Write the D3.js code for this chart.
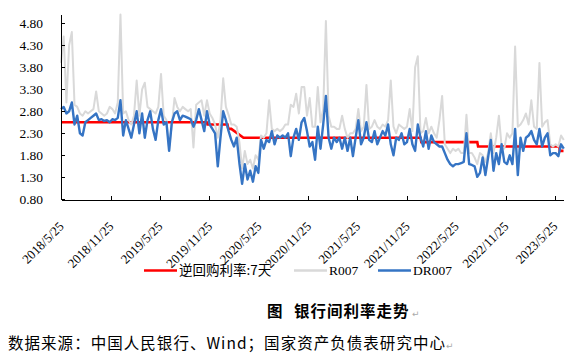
<!DOCTYPE html>
<html>
<head>
<meta charset="utf-8">
<script src="https://cdn.jsdelivr.net/npm/d3@7"></script>
<style>
  body { margin: 0; background: #fff; }
  .axis path, .axis line { stroke: #000; shape-rendering: crispEdges; }
</style>
</head>
<body>
<svg id="chart" width="582" height="364"></svg>
<script>
// 数据：每10天取一个点，从2018/5/25起
var startDate = "2018-05-25";
var stepDays = 10;

var r007 = [3.9, 4.5, 3.0, 4.3, 4.6, 2.95, 2.9, 2.75, 2.7, 2.8,
    2.75, 2.8, 2.85, 3.25, 2.8, 2.75, 2.7, 2.75, 2.9, 2.85,
    2.75, 3.0, 5.0, 2.75, 2.8, 2.6, 2.5, 2.7, 3.5, 2.7,
    3.3, 3.45, 2.9, 2.85, 2.8, 2.75, 2.9, 3.65, 2.7, 2.6,
    1.95, 2.5, 3.1, 2.9, 2.8, 2.9, 2.85, 2.8, 2.85, 1.98,
    2.95, 3.0, 3.05, 2.7, 3.05, 2.75, 2.65, 2.5, 2.2, 2.6,
    3.55, 2.9, 2.72, 2.5, 2.5, 2.45, 2.1, 1.5, 1.9, 1.6,
    1.7, 1.5, 1.8, 1.7, 2.25, 2.2, 2.3, 3.05, 2.4, 2.35,
    2.4, 2.35, 2.4, 2.5, 2.5, 2.95, 2.9, 3.2, 2.75, 3.35,
    3.35, 2.7, 3.1, 2.45, 2.45, 3.35, 2.55, 2.85, 4.85, 2.7,
    2.45, 2.45, 2.4, 2.4, 2.7, 2.4, 2.2, 2.3, 2.3, 2.4,
    2.85, 2.35, 2.45, 3.4, 2.4, 2.45, 2.6, 2.45, 2.4, 2.5,
    2.45, 2.6, 3.5, 2.45, 2.3, 2.5, 2.45, 2.4, 2.45, 2.85,
    2.35, 3.8, 4.05, 2.3, 2.35, 2.65, 2.3, 2.45, 2.3, 2.2,
    2.6, 3.15, 2.05, 1.95, 1.85, 1.95, 1.9, 1.95, 1.85, 1.85,
    2.72, 1.85, 1.85, 1.75, 1.6, 1.85, 1.8, 1.65, 1.85, 2.3,
    1.85, 2.2, 2.7, 2.0, 1.95, 2.3, 2.2, 2.3, 4.27, 2.45,
    2.5, 2.6, 2.75, 2.5, 3.05, 2.45, 2.4, 3.9, 2.45, 2.55,
    2.6, 2.05, 2.0, 2.05, 2.0, 2.25, 2.15];

var dr007 = [2.85, 2.9, 2.75, 2.8, 3.0, 2.5, 2.7, 2.3, 2.25, 2.55,
    2.6, 2.65, 2.7, 2.75, 2.6, 2.62, 2.58, 2.6, 2.55, 2.62,
    2.6, 2.65, 3.05, 2.25, 2.6, 2.4, 2.2, 2.5, 2.8, 2.3,
    2.75, 2.2, 2.6, 2.8, 2.4, 2.15, 2.6, 2.85, 2.5, 2.55,
    1.9, 2.55, 2.75, 2.8, 2.6, 2.7, 2.68, 2.65, 2.62, 2.45,
    2.6, 2.85, 2.6, 2.35, 2.8, 2.5, 2.4, 2.3, 1.55, 2.2,
    2.8, 2.6, 2.35, 2.15, 2.0, 2.2, 1.62, 1.15, 1.6, 1.25,
    1.45, 1.2, 1.55, 1.4, 2.15, 1.95, 2.15, 2.1, 2.35, 2.05,
    2.25, 2.2, 2.25, 2.2, 2.3, 1.78, 2.2, 2.4, 2.15, 2.55,
    2.65, 2.35, 2.0, 2.1, 1.7, 2.45, 1.95, 2.5, 3.15, 2.2,
    1.95, 2.2, 2.1, 2.2, 1.95, 2.2, 1.9, 2.2, 1.78, 2.2,
    2.6, 2.05, 2.2, 2.55, 2.15, 2.1, 2.35, 2.05, 2.2, 2.35,
    2.25, 2.5, 2.05, 1.8, 2.2, 2.15, 2.3, 2.05, 2.1, 2.4,
    2.05, 1.9, 2.5, 2.2, 2.0, 2.35, 1.95, 2.25, 2.1, 2.05,
    2.0, 2.0, 1.85, 1.7, 1.6, 1.55, 1.6, 1.6, 1.62, 1.65,
    2.3, 1.6, 1.58, 1.55, 1.31, 1.4, 1.75, 1.35, 1.75, 2.15,
    1.45, 1.85, 1.6, 2.05, 1.65, 1.6, 1.8, 1.6, 2.4, 1.35,
    2.2, 1.9, 2.2, 2.25, 2.35, 2.15, 2.05, 2.4, 2.0, 2.2,
    2.3, 1.8, 1.85, 1.85, 1.78, 2.05, 1.95];

// 逆回购利率:7天（调整日）
var repoDates = ["2018-05-25", "2019-11-15", "2019-11-18", "2020-01-31", "2020-02-03",
    "2020-02-14", "2020-03-30", "2022-01-14", "2022-01-17", "2022-08-12",
    "2022-08-15", "2023-06-12", "2023-06-13", "2023-06-27"];
var repoRates = [2.55, 2.55, 2.50, 2.50, 2.40, 2.40, 2.20, 2.20, 2.10, 2.10,
    2.00, 2.00, 1.90, 1.90];

var xTickLabels = ["2018/5/25", "2018/11/25", "2019/5/25", "2019/11/25", "2020/5/25",
    "2020/11/25", "2021/5/25", "2021/11/25", "2022/5/25", "2022/11/25", "2023/5/25"];
var yTicks = [0.8, 1.3, 1.8, 2.3, 2.8, 3.3, 3.8, 4.3, 4.8];

var serif = "'Times New Roman', 'Liberation Serif', serif";
var cjk = "'Noto Sans CJK SC', sans-serif";

var parseIso = d3.timeParse("%Y-%m-%d");
var parseTick = d3.timeParse("%Y/%m/%d");
var t0 = parseIso(startDate);

var seriesR = r007.map((v, i) => ({ date: d3.timeDay.offset(t0, i * stepDays), value: v }));
var seriesDR = dr007.map((v, i) => ({ date: d3.timeDay.offset(t0, i * stepDays), value: v }));
var seriesRepo = repoDates.map((d, i) => ({ date: parseIso(d), value: repoRates[i] }));

var svg = d3.select("#chart");

var xScale = d3.scaleTime()
    .domain([t0, parseIso("2023-06-27")])
    .range([61, 563.5]);

var yScale = d3.scaleLinear()
    .domain([0.8, 5.0])
    .range([199.3, 14.5]);

var line = d3.line()
    .x(d => xScale(d.date))
    .y(d => yScale(d.value));

// 线条：红 -> 灰 -> 蓝
svg.append("path")
    .datum(seriesRepo)
    .attr("fill", "none")
    .attr("stroke", "#ff0000")
    .attr("stroke-width", 2.6)
    .attr("d", line);

svg.append("path")
    .datum(seriesR)
    .attr("fill", "none")
    .attr("stroke", "#d9d9d9")
    .attr("stroke-width", 2)
    .attr("stroke-linejoin", "round")
    .attr("d", line);

svg.append("path")
    .datum(seriesDR)
    .attr("fill", "none")
    .attr("stroke", "#3574c4")
    .attr("stroke-width", 2.4)
    .attr("stroke-linejoin", "round")
    .attr("d", line);

// y axis
var yAxis = svg.append("g")
    .attr("class", "axis")
    .attr("transform", "translate(61.5,0)")
    .call(d3.axisRight(yScale).tickValues(yTicks).tickSize(3).tickFormat(""));
yAxis.select(".domain").attr("d", "M0," + yScale(5.0) + "V" + yScale(0.8));

svg.append("g")
    .selectAll("text")
    .data(yTicks)
    .enter().append("text")
    .attr("x", 43)
    .attr("y", d => yScale(d))
    .attr("dy", "0.35em")
    .attr("text-anchor", "end")
    .attr("font-family", serif)
    .attr("font-size", 13.5)
    .attr("fill", "#000")
    .text(d => d3.format(".2f")(d));

// x axis
var xTickDates = xTickLabels.map(parseTick);
var xAxis = svg.append("g")
    .attr("class", "axis")
    .attr("transform", "translate(0,199.5)")
    .call(d3.axisTop(xScale).tickValues(xTickDates).tickSize(4).tickSizeOuter(0).tickFormat(""));

svg.append("g")
    .selectAll("text")
    .data(xTickLabels)
    .enter().append("text")
    .attr("transform", (d, i) => "translate(" + (xScale(xTickDates[i]) + 0.5) + ",224) rotate(-45)")
    .attr("dy", "0.35em")
    .attr("text-anchor", "end")
    .attr("font-family", serif)
    .attr("font-size", 13)
    .attr("fill", "#000")
    .text(d => d);

// legend
var legend = [
    { label: "逆回购利率:7天", color: "#ff0000", x: 144, font: cjk },
    { label: "R007", color: "#d9d9d9", x: 294, font: serif },
    { label: "DR007", color: "#3574c4", x: 378, font: serif }
];
var lg = svg.append("g").selectAll("g").data(legend).enter().append("g");
lg.append("line")
    .attr("x1", d => d.x).attr("x2", d => d.x + 33)
    .attr("y1", 270.5).attr("y2", 270.5)
    .attr("stroke", d => d.color)
    .attr("stroke-width", 2.5);
lg.append("text")
    .attr("x", d => d.x + 35)
    .attr("y", 270.5)
    .attr("dy", "0.35em")
    .attr("font-family", d => d.font)
    .attr("font-size", 13.5)
    .attr("fill", "#000")
    .text(d => d.label);

// 标题
var title = svg.append("text")
    .attr("y", 317)
    .attr("font-family", cjk)
    .attr("font-size", 15.5)
    .attr("font-weight", "bold")
    .attr("fill", "#000");
title.append("tspan").attr("x", 267).text("图");
title.append("tspan").attr("x", 294).attr("letter-spacing", 1).text("银行间利率走势");
svg.append("text")
    .attr("x", 412).attr("y", 317)
    .attr("font-family", "'DejaVu Sans', sans-serif")
    .attr("font-size", 9)
    .attr("fill", "#aaa")
    .text("↵");

// 数据来源
svg.append("text")
    .attr("x", 8)
    .attr("y", 349)
    .attr("font-family", cjk)
    .attr("font-size", 15.5)
    .attr("fill", "#000")
    .attr("textLength", 437)
    .attr("lengthAdjust", "spacing")
    .text("数据来源：中国人民银行、Wind；国家资产负债表研究中心");
svg.append("text")
    .attr("x", 446).attr("y", 349)
    .attr("font-family", "'DejaVu Sans', sans-serif")
    .attr("font-size", 9)
    .attr("fill", "#aaa")
    .text("↵");
</script>
</body>
</html>
